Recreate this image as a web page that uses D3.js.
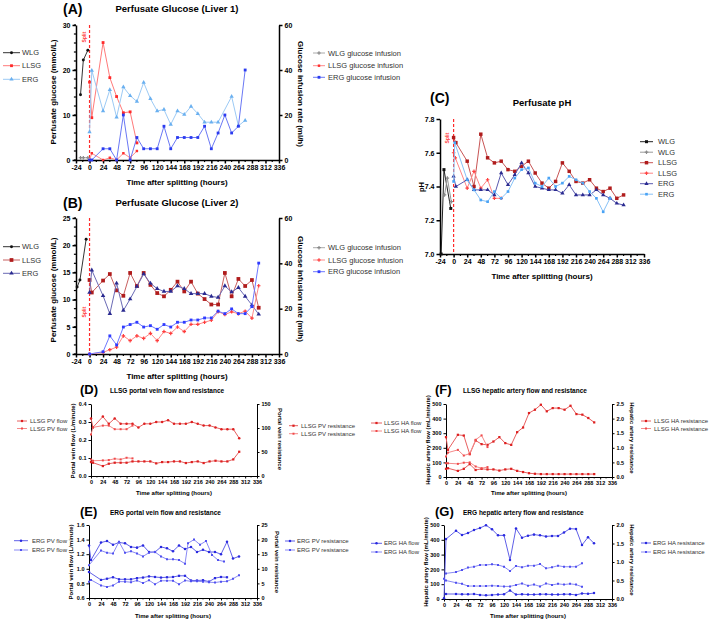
<!DOCTYPE html>
<html><head><meta charset="utf-8">
<script src="https://cdn.jsdelivr.net/npm/d3@7"></script>
<style>body{margin:0;background:#fff}svg{font-family:"Liberation Sans",Arial,sans-serif}</style>
</head><body><svg id="c" width="709" height="622"></svg>
<script>
// ---------- DATA (hour, value) ----------
const A_WLG = [[-16,14.5],[-11,22.2],[-3,24.4]];
const A_LLSG = [[0,17.3],[4,9.4],[24,26.1],[36,18.3],[48,14.1],[60,10.5],[72,10.7],[84,3.8]];
const A_ERG = [[0,6.2],[4,19.9],[24,10.9],[36,15.6],[48,9.5],[60,16.2],[72,14.3],[84,13.0],[96,17.2],[108,13.6],[120,10.9],[132,11.2],[144,7.9],[156,10.9],[168,10.1],[180,11.9],[192,10.3],[204,8.4],[216,8.4],[228,8.4],[252,14.1],[264,7.6],[276,8.8]];
const A_WLG_inf = [[-16,1],[-11,1],[-3,1]];
const A_LLSG_inf = [[0,0],[4,3],[24,0],[36,1],[48,0],[60,3],[72,1],[84,4]];
const A_ERG_inf = [[0,0],[4,0],[24,5],[36,5],[48,0],[60,20],[72,0],[84,10],[96,5],[108,5],[120,5],[132,15],[144,5],[156,10],[168,10],[180,10],[192,10],[204,15],[216,5],[228,12],[240,20],[252,12],[264,15],[276,40]];

const B_WLG = [[-22,12.3],[-17,13.6],[-6,21.1]];
const B_LLSG = [[0,13.6],[4,11.3],[24,13.5],[36,14.7],[48,11.7],[60,10.7],[72,14.9],[84,12.5],[96,14.9],[108,12.7],[120,11.2],[132,10.6],[144,11.8],[156,13.3],[168,11.5],[180,13.3],[192,11.1],[204,10.1],[216,9.1],[228,9.1],[240,14.9],[252,10.6],[264,13.8],[276,12.5],[288,13.6],[300,8.5]];
const B_ERG = [[0,11.3],[4,15.4],[24,10.7],[36,7.4],[48,13.0],[60,8.0],[72,10.1],[84,12.4],[96,14.7],[108,13.0],[120,12.0],[132,11.5],[144,11.5],[156,12.5],[168,12.0],[180,11.1],[192,11.1],[204,11.1],[216,10.6],[228,10.4],[240,12.5],[252,11.4],[264,12.2],[276,10.6],[288,9.0],[300,7.3]];
const B_WLG_inf = [];
const B_LLSG_inf = [[0,0],[24,0.7],[36,1.9],[48,3],[60,8],[72,5.9],[84,8],[96,6.9],[108,9.1],[120,5.9],[132,9.9],[144,9.1],[156,11.9],[168,9.9],[180,13.1],[192,13.1],[204,14],[216,14.9],[228,18.7],[240,17.4],[252,18.6],[264,17.8],[276,18.9],[288,15.8],[300,30.1]];
const B_ERG_inf = [[0,0],[24,1],[36,8],[48,4],[60,11.9],[72,13],[84,14],[96,11.9],[108,12.5],[120,10.9],[132,13],[144,11.9],[156,14],[168,14],[180,15],[192,15],[204,15.9],[216,15.9],[228,18.9],[240,17.8],[252,19.9],[264,17.8],[276,17.8],[288,20.9],[300,40.1]];

const C_WLG1 = [[-22,7.0],[-17,7.5],[-5,7.27]];
const C_WLG2 = [[-16,7.35],[-11,7.45],[-4,7.31]];
const C_LLSG1 = [[0,7.69],[4,7.66],[24,7.55],[36,7.40],[48,7.71],[60,7.57],[72,7.54],[84,7.55],[96,7.50],[108,7.49],[120,7.52],[132,7.55],[144,7.48],[156,7.42],[168,7.39],[180,7.43],[192,7.54],[204,7.49],[216,7.43],[228,7.42],[240,7.44],[252,7.39],[264,7.37],[276,7.39],[288,7.33],[300,7.35]];
const C_LLSG2 = [[0,7.6],[3,7.57],[24,7.39],[36,7.49],[48,7.39],[60,7.44],[72,7.33],[84,7.33]];
const C_ERG1 = [[0,7.46],[4,7.40],[24,7.44],[36,7.38],[48,7.38],[60,7.38],[72,7.35],[84,7.48],[96,7.41],[108,7.47],[120,7.54],[132,7.48],[144,7.40],[156,7.39],[168,7.38],[180,7.38],[192,7.36],[204,7.41],[216,7.35],[228,7.35],[240,7.35],[252,7.38],[264,7.35],[276,7.33],[288,7.30],[300,7.29]];
const C_ERG2 = [[0,7.43],[2,7.66],[24,7.44],[36,7.38],[48,7.32],[60,7.31],[72,7.37],[84,7.33],[96,7.37],[108,7.45],[120,7.50],[132,7.51],[144,7.42],[156,7.40],[168,7.45],[180,7.40],[192,7.42],[204,7.46],[216,7.44],[228,7.42],[240,7.37],[252,7.33],[264,7.25],[276,7.33]];

const D_flow1 = [[0,0.32],[4,0.27],[24,0.33],[36,0.29],[48,0.32],[60,0.29],[72,0.29],[84,0.29],[96,0.27],[108,0.29],[120,0.29],[132,0.30],[144,0.30],[156,0.31],[168,0.29],[180,0.29],[192,0.29],[204,0.30],[216,0.29],[228,0.28],[240,0.28],[252,0.27],[264,0.26],[276,0.26],[288,0.26],[300,0.21]];
const D_flow2 = [[0,0.23],[4,0.27],[24,0.28],[36,0.28],[48,0.26],[60,0.26],[72,0.26],[84,0.28]];
const D_res1 = [[0,29],[4,27.7],[24,20.7],[36,25.6],[48,27.7],[60,27.7],[72,27.7],[84,30.4],[96,30.4],[108,30.4],[120,30.4],[132,26.3],[144,29],[156,29],[168,30.4],[180,30.4],[192,27],[204,29],[216,30.4],[228,27],[240,30.4],[252,31.8],[264,30.4],[276,30.4],[288,34.6],[300,50.5]];
const D_res2 = [[0,34.6],[4,31.8],[24,32.5],[36,33.2],[48,36],[60,34.6],[72,38],[84,36.7]];

const E_flow1 = [[0,1.32],[4,1.12],[24,1.36],[36,1.38],[48,1.33],[60,1.36],[72,1.35],[84,1.30],[96,1.29],[108,1.32],[120,1.23],[132,1.23],[144,1.30],[156,1.28],[168,1.24],[180,1.32],[192,1.27],[204,1.30],[216,1.23],[228,1.26],[240,1.23],[252,1.23],[264,1.20],[276,1.37],[288,1.14],[300,1.17]];
const E_flow2 = [[0,1.05],[24,1.25],[36,1.22],[48,1.21],[60,1.37],[72,1.22],[84,1.24],[96,1.21],[108,1.17],[120,1.22],[132,1.23],[144,1.17],[156,1.13],[168,1.13],[180,1.12],[192,1.07],[198,1.35],[210,1.40],[222,1.33],[234,1.38],[246,1.19],[258,1.12],[270,1.10]];
const E_res1 = [[0,8.9],[24,6.2],[36,6.6],[48,7.1],[60,6.4],[72,6.4],[84,6.4],[96,6.8],[108,7.0],[120,7.4],[132,7.2],[144,7.0],[156,7.1],[168,7.2],[180,7.6],[192,7.6],[204,6.0],[216,6.0],[228,6.1],[240,5.6],[252,6.8],[264,7.2],[276,7.1]];
const E_res2 = [[0,5.6],[4,6.2],[24,4.3],[36,3.8],[48,4.3],[60,5.6],[72,5.6],[84,5.4],[96,6.0],[108,5.1],[120,6.1],[132,4.7],[144,5.9],[156,5.9],[168,5.9],[180,4.7],[192,6.0],[204,5.7],[216,5.7],[228,5.6],[240,5.4],[252,5.3],[264,5.6],[276,5.7],[288,6.6],[300,7.8]];

const F_flow1 = [[0,273],[4,186],[24,289],[36,284],[48,156],[60,250],[72,225],[84,220],[96,243],[108,273],[120,232],[132,220],[144,307],[156,339],[168,438],[180,461],[192,495],[204,450],[216,472],[228,472],[240,461],[252,488],[264,431],[276,427],[288,404],[300,374]];
const F_flow2 = [[0,140],[4,167],[24,186],[36,147],[48,160],[60,255],[72,285],[84,205]];
const F_res1 = [[0,0.28],[4,0.30],[24,0.21],[36,0.28],[48,0.44],[60,0.24],[72,0.28],[84,0.26],[96,0.26],[108,0.22],[120,0.26],[132,0.28],[144,0.21],[156,0.17],[168,0.13],[180,0.11],[192,0.10],[204,0.10],[216,0.10],[228,0.10],[240,0.10],[252,0.10],[264,0.10],[276,0.10],[288,0.10],[300,0.10]];
const F_res2 = [[0,0.47],[4,0.47],[24,0.45],[36,0.49],[48,0.50],[60,0.36],[72,0.30],[84,0.34]];

const G_flow1 = [[0,5],[4,405],[24,461],[36,432],[48,446],[60,466],[72,480],[84,498],[96,471],[108,430],[120,430],[132,264],[144,477],[156,414],[168,428],[180,435],[192,430],[204,423],[216,426],[228,426],[240,450],[252,475],[264,473],[276,365],[288,417],[300,376]];
const G_flow2 = [[4,173],[24,182],[36,196],[48,212],[60,218],[72,230],[84,230],[96,234],[108,230],[120,218],[132,189],[144,223],[156,214],[168,225],[180,225],[192,236],[204,207],[216,214],[228,225],[240,218],[252,218],[264,218],[276,241]];
const G_res1 = [[0,0.55],[4,0.50],[24,0.44],[36,0.41],[48,0.35],[60,0.35],[72,0.35],[84,0.35],[96,0.36],[108,0.35],[120,0.34],[132,0.34],[144,0.38],[156,0.42],[168,0.36],[180,0.39],[192,0.34],[204,0.42],[216,0.38],[228,0.41],[240,0.39],[252,0.41],[264,0.39],[276,0.33]];
const G_res2 = [[4,0.135],[24,0.135],[36,0.13],[48,0.13],[60,0.135],[72,0.11],[84,0.10],[96,0.11],[108,0.12],[120,0.13],[132,0.23],[144,0.12],[156,0.13],[168,0.12],[180,0.12],[192,0.13],[204,0.13],[216,0.12],[228,0.12],[240,0.13],[252,0.13],[264,0.11],[276,0.15],[288,0.14],[300,0.16]];

const HOUR_TICKS_NEG = d3.range(-24, 337, 24);
const HOUR_TICKS = d3.range(0, 337, 24);

// ---------- DRAWING ----------
const svg = d3.select('#c');
const SYM = {sq: d3.symbolSquare, tri: d3.symbolTriangle, dot: d3.symbolCircle, plus: d3.symbolCross};

function drawSeries(g, x, y, s) {
  if (!s.d.length) return;
  g.append('path').datum(s.d)
    .attr('d', d3.line().x(d => x(d[0])).y(d => y(d[1])))
    .attr('fill', 'none').attr('stroke', s.lc || s.c).attr('stroke-width', s.lw || 1);
  g.selectAll(null).data(s.d).enter().append('path')
    .attr('transform', d => `translate(${x(d[0])},${y(d[1])})`)
    .attr('d', d3.symbol().type(SYM[s.m || 'sq']).size(s.sz || 8))
    .attr('fill', s.c);
}

function styleAxis(a, p) {
  a.select('.domain').attr('stroke', '#000').attr('stroke-width', p.aw);
  a.selectAll('.tick line').attr('stroke', '#000').attr('stroke-width', p.aw);
  a.selectAll('.tick text').attr('font-size', p.tf).attr('font-weight', 'bold').attr('fill', '#000')
    .attr('font-family', '"Liberation Sans",Arial,sans-serif');
}

function drawPanel(p) {
  const g = svg.append('g');
  const x = d3.scaleLinear().domain(p.xd).range([p.x0, p.x1]);
  const yl = d3.scaleLinear().domain(p.yl).range([p.yb, p.yt]);
  const yr = p.yr ? d3.scaleLinear().domain(p.yr).range([p.yb, p.yt]) : null;

  (p.xm || []).forEach(v => g.append('line').attr('x1', x(v)).attr('x2', x(v)).attr('y1', p.yb).attr('y2', p.yb + p.tl * 0.6).attr('stroke', '#000').attr('stroke-width', p.aw * 0.8));
  (p.ylm || []).forEach(v => g.append('line').attr('y1', yl(v)).attr('y2', yl(v)).attr('x1', p.x0).attr('x2', p.x0 - p.tl * 0.6).attr('stroke', '#000').attr('stroke-width', p.aw * 0.8));

  const ax = g.append('g').attr('transform', `translate(0,${p.yb})`)
    .call(d3.axisBottom(x).tickValues(p.xt).tickSize(p.tl).tickSizeOuter(0).tickPadding(p.tp || 2).tickFormat(d => String(d)));
  styleAxis(ax, p);
  const ayl = g.append('g').attr('transform', `translate(${p.x0},0)`)
    .call(d3.axisLeft(yl).tickValues(p.ylt).tickSize(p.tl).tickSizeOuter(0).tickPadding(2).tickFormat(p.ylf || (d => String(d))));
  styleAxis(ayl, p);
  if (yr) {
    const ayr = g.append('g').attr('transform', `translate(${p.x1},0)`)
      .call(d3.axisRight(yr).tickValues(p.yrt).tickSize(p.tl).tickSizeOuter(0).tickPadding(2).tickFormat(p.yrf || (d => String(d))));
    styleAxis(ayr, p);
  }

  if (p.split) {
    g.append('line').attr('x1', x(0)).attr('x2', x(0)).attr('y1', p.yt).attr('y2', p.yb)
      .attr('stroke', '#ff2a2a').attr('stroke-width', 1.2).attr('stroke-dasharray', '3,2');
    g.append('text').text('Split').attr('transform', `translate(${p.split[0]},${p.split[1]}) rotate(-90)`)
      .attr('text-anchor', 'middle').attr('font-size', 5).attr('font-weight', 'bold').attr('fill', '#ff3030');
  }

  p.series.forEach(s => drawSeries(g, x, s.r ? yr : yl, s));

  g.append('text').text(p.tag[0]).attr('x', p.tag[1]).attr('y', p.tag[2]).attr('font-size', p.tag[3]).attr('font-weight', 'bold');
  g.append('text').text(p.title[0]).attr('x', p.title[1]).attr('y', p.title[2]).attr('font-size', p.title[3])
    .attr('font-weight', 'bold').attr('text-anchor', p.title[4] || 'middle');
  g.append('text').text(p.xlab[0]).attr('x', p.xlab[1]).attr('y', p.xlab[2]).attr('font-size', p.xlab[3])
    .attr('font-weight', 'bold').attr('text-anchor', 'middle');
  g.append('text').text(p.ylab[0]).attr('transform', `translate(${p.ylab[1]},${p.ylab[2]}) rotate(-90)`)
    .attr('font-size', p.ylab[3]).attr('font-weight', 'bold').attr('text-anchor', 'middle');
  if (p.yrlab) g.append('text').text(p.yrlab[0]).attr('transform', `translate(${p.yrlab[1]},${p.yrlab[2]}) rotate(90)`)
    .attr('font-size', p.yrlab[3]).attr('font-weight', 'bold').attr('text-anchor', 'middle');

  p.legends.forEach(L => {
    L.items.forEach((it, i) => {
      const s = p.series[it[1]];
      const yy = L.ys[i];
      g.append('line').attr('x1', L.x).attr('x2', L.x + L.w).attr('y1', yy).attr('y2', yy)
        .attr('stroke', s.lc || s.c).attr('stroke-width', 1);
      g.append('path').attr('transform', `translate(${L.x + L.w / 2},${yy})`)
        .attr('d', d3.symbol().type(SYM[s.m || 'sq']).size(s.sz || 8)).attr('fill', s.c);
      g.append('text').text(it[0]).attr('x', L.tx).attr('y', yy).attr('dy', '0.35em')
        .attr('font-size', L.fs).attr('fill', '#333');
    });
  });
}

const f1 = d3.format('.1f');
const xmNeg = d3.range(-12, 337, 24);
const xm = d3.range(12, 337, 24);

drawPanel({
  xd: [-24, 336], x0: 76, x1: 279, yl: [0, 30], yt: 25, yb: 160, yr: [0, 60],
  xt: HOUR_TICKS_NEG, xm: xmNeg, ylt: [0, 10, 20, 30], ylm: d3.range(0, 31, 2), yrt: [0, 20, 40, 60],
  tf: 7, tl: 3.5, aw: 1.5, split: [86, 37],
  tag: ['(A)', 63, 14, 14], title: ['Perfusate Glucose (Liver 1)', 177, 12, 9.5],
  xlab: ['Time after splitting (hours)', 177, 185, 8],
  ylab: ['Perfusate glucose (mmol/L)', 56, 92, 8], yrlab: ['Glucose infusion rate  (ml/h)', 298, 94, 8],
  series: [
    {d: A_WLG, c: '#111', lc: '#333', m: 'dot', sz: 7},
    {d: A_LLSG, c: '#ff2a2a', lc: '#ff7a7a', m: 'sq', sz: 8},
    {d: A_ERG, c: '#6ab0f0', lc: '#9ccaf5', m: 'tri', sz: 8},
    {d: A_WLG_inf, c: '#888', lc: '#aaa', m: 'plus', sz: 7, r: 1},
    {d: A_LLSG_inf, c: '#ff3030', lc: '#ff8a8a', m: 'sq', sz: 6, r: 1},
    {d: A_ERG_inf, c: '#2b3bf0', lc: '#6a78f5', m: 'sq', sz: 8, r: 1}
  ],
  legends: [
    {x: 3, w: 17, tx: 22, ys: [52.7, 65.7, 79.3], fs: 7.5, items: [['WLG', 0], ['LLSG', 1], ['ERG', 2]]},
    {x: 313, w: 12, tx: 328, ys: [53, 65.7, 77.3], fs: 7.5, items: [['WLG glucose infusion', 3], ['LLSG glucose infusion', 4], ['ERG glucose infusion', 5]]}
  ]
});

drawPanel({
  xd: [-24, 336], x0: 76, x1: 279, yl: [0, 25], yt: 218, yb: 354, yr: [0, 60],
  xt: HOUR_TICKS_NEG, xm: xmNeg, ylt: [0, 5, 10, 15, 20, 25], ylm: d3.range(0, 25.01, 5 / 3), yrt: [0, 20, 40, 60],
  tf: 7, tl: 3.5, aw: 1.5, split: [86, 312],
  tag: ['(B)', 63, 208, 14], title: ['Perfusate Glucose (Liver 2)', 177, 206, 9.5],
  xlab: ['Time after splitting (hours)', 177, 379, 8],
  ylab: ['Perfusate glucose (mmol/L)', 56, 290, 8], yrlab: ['Glucose infusion rate  (ml/h)', 298, 289, 8],
  series: [
    {d: B_WLG, c: '#111', lc: '#333', m: 'dot', sz: 7},
    {d: B_LLSG, c: '#b01c1c', lc: '#c86060', m: 'sq', sz: 14},
    {d: B_ERG, c: '#2a2a90', lc: '#6a6ab5', m: 'tri', sz: 9},
    {d: B_WLG_inf, c: '#888', lc: '#aaa', m: 'plus', sz: 7, r: 1},
    {d: B_LLSG_inf, c: '#ff3b3b', lc: '#ff8a8a', m: 'plus', sz: 7, r: 1},
    {d: B_ERG_inf, c: '#2f3bff', lc: '#6e78ff', m: 'sq', sz: 8, r: 1}
  ],
  legends: [
    {x: 3, w: 17, tx: 22, ys: [246.7, 260, 273.3], fs: 7.5, items: [['WLG', 0], ['LLSG', 1], ['ERG', 2]]},
    {x: 313, w: 12, tx: 328, ys: [247.7, 260, 271.7], fs: 7.5, items: [['WLG glucose infusion', 3], ['LLSG glucose infusion', 4], ['ERG glucose infusion', 5]]}
  ]
});

drawPanel({
  xd: [-24, 336], x0: 440, x1: 644, yl: [7.0, 7.8], yt: 119, yb: 254,
  xt: HOUR_TICKS_NEG, xm: xmNeg, ylt: [7.0, 7.2, 7.4, 7.6, 7.8], ylf: f1,
  tf: 7, tl: 3.5, aw: 1.5, split: [449, 138],
  tag: ['(C)', 430, 103, 14], title: ['Perfusate pH', 542, 106, 9.5],
  xlab: ['Time after splitting (hours)', 542, 279, 8],
  ylab: ['pH', 424, 187, 7.5],
  series: [
    {d: C_WLG1, c: '#111', lc: '#222', m: 'sq', sz: 9},
    {d: C_WLG2, c: '#888', lc: '#999', m: 'plus', sz: 7},
    {d: C_LLSG1, c: '#b01c1c', lc: '#c85555', m: 'sq', sz: 12},
    {d: C_LLSG2, c: '#ff4040', lc: '#ff8585', m: 'plus', sz: 7},
    {d: C_ERG1, c: '#2a2a90', lc: '#5a5ab0', m: 'tri', sz: 8},
    {d: C_ERG2, c: '#4aa3f5', lc: '#88c2f7', m: 'sq', sz: 7}
  ],
  legends: [
    {x: 640, w: 13, tx: 658, ys: [141.7, 152.2, 162.7, 173.2, 183.7, 194.2], fs: 7.5,
     items: [['WLG', 0], ['WLG', 1], ['LLSG', 2], ['LLSG', 3], ['ERG', 4], ['ERG', 5]]}
  ]
});

drawPanel({
  xd: [0, 336], x0: 91, x1: 257, yl: [0, 0.4], yt: 404, yb: 476, yr: [0, 150],
  xt: HOUR_TICKS, xm: xm, ylt: [0, 0.1, 0.2, 0.3, 0.4], ylf: f1, yrt: [0, 50, 100, 150],
  tf: 5.5, tl: 2.5, aw: 1,
  tag: ['(D)', 80, 394, 13], title: ['LLSG portal vein flow and resistance', 110, 393, 6.5, 'start'],
  xlab: ['Time after splitting (hours)', 174, 495, 6],
  ylab: ['Portal vein flow (L/minute)', 75, 441, 6], yrlab: ['Portal vein resistance', 278, 439, 6],
  series: [
    {d: D_flow1, c: '#dd2020', lc: '#e86060', m: 'dot', sz: 5},
    {d: D_flow2, c: '#f04a4a', lc: '#f58a8a', m: 'sq', sz: 4},
    {d: D_res1, c: '#dd2020', lc: '#e86060', m: 'sq', sz: 5, r: 1},
    {d: D_res2, c: '#f04a4a', lc: '#f58a8a', m: 'sq', sz: 4, r: 1}
  ],
  legends: [
    {x: 17, w: 10, tx: 30, ys: [421, 428.5], fs: 6, items: [['LLSG PV flow', 0], ['LLSG PV flow', 1]]},
    {x: 289, w: 9, tx: 301, ys: [425.7, 433.7], fs: 6, items: [['LLSG PV resistance', 2], ['LLSG PV resistance', 3]]}
  ]
});

drawPanel({
  xd: [0, 336], x0: 89, x1: 257, yl: [0.6, 1.6], yt: 525, yb: 598, yr: [0, 25],
  xt: HOUR_TICKS, xm: xm, ylt: [0.6, 0.8, 1.0, 1.2, 1.4, 1.6], ylf: f1, yrt: [0, 5, 10, 15, 20, 25],
  tf: 5.5, tl: 2.5, aw: 1,
  tag: ['(E)', 80, 516, 13], title: ['ERG portal vein flow and resistance', 110, 515, 6.5, 'start'],
  xlab: ['Time after splitting (hours)', 173, 618, 6],
  ylab: ['Portal vein flow (L/minute)', 73, 562, 6], yrlab: ['Portal vein resistance', 275, 562, 6],
  series: [
    {d: E_flow1, c: '#2a2ae0', lc: '#6060e8', m: 'dot', sz: 5},
    {d: E_flow2, c: '#5050f0', lc: '#8a8af5', m: 'sq', sz: 4},
    {d: E_res1, c: '#2a2ae0', lc: '#6060e8', m: 'sq', sz: 5, r: 1},
    {d: E_res2, c: '#5050f0', lc: '#8a8af5', m: 'sq', sz: 4, r: 1}
  ],
  legends: [
    {x: 14, w: 14, tx: 32, ys: [540.7, 550], fs: 6, items: [['ERG PV flow', 0], ['ERG PV flow', 1]]},
    {x: 285, w: 10, tx: 297, ys: [541, 550], fs: 6, items: [['ERG PV resistance', 2], ['ERG PV resistance', 3]]}
  ]
});

drawPanel({
  xd: [0, 336], x0: 446, x1: 612, yl: [0, 500], yt: 404, yb: 477, yr: [0, 2.5],
  xt: HOUR_TICKS, xm: xm, ylt: [0, 100, 200, 300, 400, 500], yrt: [0, 0.5, 1, 1.5, 2, 2.5], yrf: f1,
  tf: 5.5, tl: 2.5, aw: 1,
  tag: ['(F)', 435, 394, 13], title: ['LLSG hepatic artery flow and resistance', 463, 393, 6.5, 'start'],
  xlab: ['Time after splitting (hours)', 529, 495, 6],
  ylab: ['Hepatic artery flow (mL/minute)', 430, 440, 6], yrlab: ['Hepatic artery resistance', 630, 438, 6],
  series: [
    {d: F_flow1, c: '#dd2020', lc: '#e86060', m: 'sq', sz: 5},
    {d: F_flow2, c: '#f04a4a', lc: '#f58a8a', m: 'sq', sz: 4},
    {d: F_res1, c: '#dd2020', lc: '#e86060', m: 'sq', sz: 5, r: 1},
    {d: F_res2, c: '#f04a4a', lc: '#f58a8a', m: 'sq', sz: 4, r: 1}
  ],
  legends: [
    {x: 371, w: 11, tx: 384, ys: [423, 431], fs: 6, items: [['LLSG HA flow', 0], ['LLSG HA flow', 1]]},
    {x: 641, w: 10, tx: 654, ys: [421, 428.5], fs: 6, items: [['LLSG HA resistance', 2], ['LLSG HA resistance', 3]]}
  ]
});

drawPanel({
  xd: [0, 336], x0: 444, x1: 612, yl: [0, 500], yt: 525, yb: 599, yr: [0, 2],
  xt: HOUR_TICKS, xm: xm, ylt: [0, 100, 200, 300, 400, 500], yrt: [0, 0.5, 1, 1.5, 2], yrf: f1,
  tf: 5.5, tl: 2.5, aw: 1,
  tag: ['(G)', 435, 516, 13], title: ['ERG hepatic artery flow and resistance', 463, 515, 6.5, 'start'],
  xlab: ['Time after splitting (hours)', 528, 618, 6],
  ylab: ['Hepatic artery flow (mL/minute)', 428, 562, 6], yrlab: ['Hepatic artery resistance', 630, 560, 6],
  series: [
    {d: G_flow1, c: '#2a2ae0', lc: '#6060e8', m: 'dot', sz: 5},
    {d: G_flow2, c: '#5050f0', lc: '#8a8af5', m: 'sq', sz: 4},
    {d: G_res1, c: '#5050f0', lc: '#8a8af5', m: 'sq', sz: 4, r: 1},
    {d: G_res2, c: '#2a2ae0', lc: '#6060e8', m: 'dot', sz: 5, r: 1}
  ],
  legends: [
    {x: 371, w: 11, tx: 384, ys: [543.3, 552], fs: 6, items: [['ERG HA flow', 0], ['ERG HA flow', 1]]},
    {x: 641, w: 10, tx: 653, ys: [543, 552], fs: 6, items: [['ERG HA resistance', 3], ['ERG HA resistance', 2]]}
  ]
});
</script></body></html>
